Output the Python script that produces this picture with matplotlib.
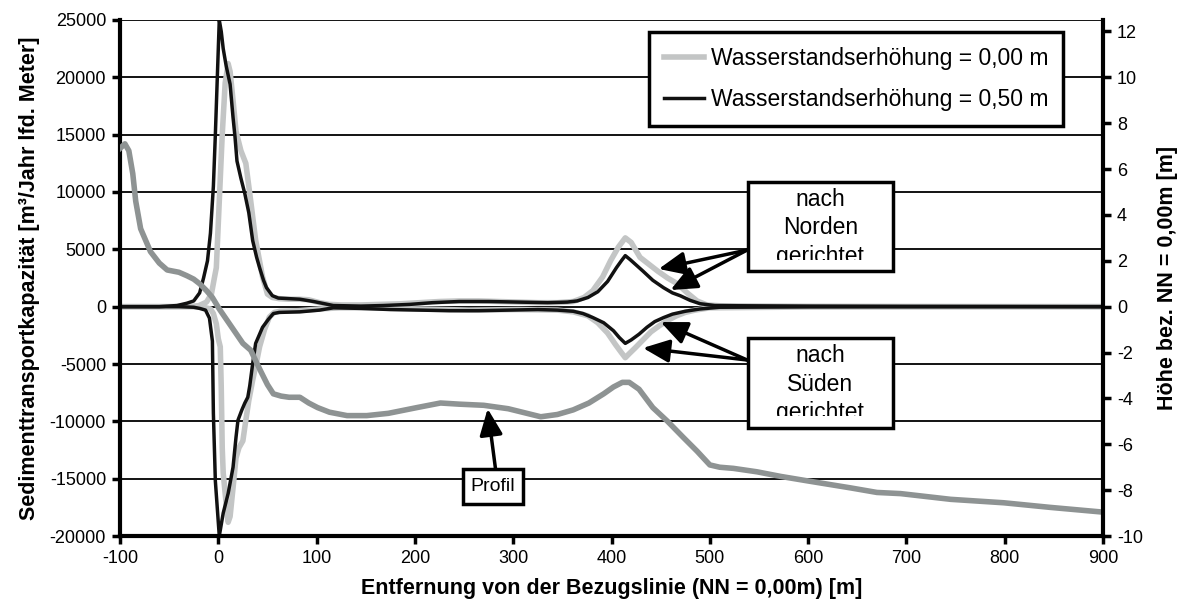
import matplotlib
matplotlib.use("Agg")
import matplotlib.pyplot as plt
from matplotlib.patches import Rectangle
from matplotlib.transforms import Bbox, TransformedBbox

plt.rcParams['font.family'] = ['Liberation Sans', 'DejaVu Sans']
plt.rcParams['axes.unicode_minus'] = False

# Sedimenttransport, Wasserstand +0,00 m (hellgrau)
x0_nord = [-100, -50, -30, -20, -12, -7, -4, -2, 1, 4, 7, 10, 12, 15, 18, 23, 28, 33, 38, 45,
           50, 55, 62, 72, 82, 92, 103, 113, 125, 145, 165, 185, 205, 225, 245, 265, 285, 305,
           325, 345, 361, 372, 381, 391, 399, 407, 414, 420, 429, 438, 447, 457, 467, 477, 487,
           497, 510, 550, 600, 700, 800, 900]
q0_nord = [0, 0, 20, 80, 400, 1100, 2500, 3400, 9200, 15000, 19500, 21200, 20500, 18000, 15300,
           13600, 12500, 9200, 5800, 2600, 1100, 800, 700, 650, 650, 600, 350, 200, 150, 150, 200,
           250, 350, 450, 500, 500, 450, 400, 350, 350, 450, 800, 1400, 2600, 4000, 5200, 6000,
           5600, 4300, 3700, 3100, 2500, 2000, 1200, 500, 150, 80, 50, 30, 20, 10, 0]

x0_sued = [-100, -30, -15, -8, -5, -2, 0, 2, 3, 4, 5, 7, 10, 12, 15, 18, 21, 25, 28, 31, 35, 39,
           42, 47, 52, 57, 63, 82, 103, 123, 153, 205, 255, 305, 345, 361, 376, 386, 396, 404,
           410, 414, 418, 424, 432, 440, 448, 457, 466, 475, 485, 500, 600, 900]
q0_sued = [0, 0, -50, -200, -600, -1500, -2800, -3500, -7000, -12300, -14500, -16300, -18800,
           -18300, -15800, -13200, -12300, -11700, -9900, -8200, -6400, -4800, -3500, -2000, -900,
           -500, -400, -350, -200, -100, -100, -200, -300, -250, -300, -450, -800, -1400, -2300,
           -3300, -4000, -4450, -4100, -3600, -2900, -2200, -1700, -1200, -800, -500, -300, -100,
           -30, 0]

# Sedimenttransport, Wasserstand +0,50 m (schwarz)
x5_nord = [-100, -60, -42, -32, -25, -19, -15, -11, -8, -5, -3, -1, 1, 3, 5, 8, 12, 15, 17, 19,
           23, 27, 31, 35, 39, 42, 46, 49, 55, 61, 72, 83, 97, 117, 145, 168, 195, 218, 245, 275,
           305, 335, 355, 365, 376, 386, 396, 405, 410, 414, 419, 432, 442, 453, 462, 470, 480,
           490, 505, 530, 600, 700, 800, 900]
q5_nord = [0, 0, 100, 300, 500, 1200, 2500, 4000, 6400, 10500, 15000, 20000, 25000, 24000, 22500,
           21000, 19400, 16500, 14800, 12700, 11200, 9850, 8200, 5750, 4300, 3400, 2300, 1660, 960,
           750, 700, 650, 450, 100, 50, 100, 200, 350, 450, 450, 400, 350, 400, 500, 800, 1300,
           2200, 3400, 4000, 4450, 4100, 3100, 2300, 1650, 1200, 950, 550, 260, 100, 80, 50, 30,
           20, 0]

x5_sued = [-100, -40, -25, -19, -13, -9, -6, -5, -3, 1, 5, 10, 15, 18, 20, 24, 27, 30, 32, 35, 38,
           45, 51, 56, 62, 83, 103, 117, 145, 175, 205, 235, 265, 295, 325, 345, 361, 371, 381,
           392, 402, 408, 414, 420, 428, 436, 444, 453, 462, 475, 490, 510, 600, 900]
q5_sued = [0, 0, -50, -150, -300, -1000, -3000, -9300, -15200, -20000, -18000, -16300, -14000,
           -11400, -9900, -9000, -8400, -7900, -6900, -4950, -3200, -1800, -1100, -600, -500, -450,
           -300, -100, -150, -250, -300, -350, -350, -300, -250, -300, -400, -600, -950, -1400,
           -2100, -2700, -3200, -2900, -2400, -1800, -1300, -950, -650, -400, -200, -50, -20, 0]

# Profil (rechte Achse, Hoehe bez. NN)
x_profil = [-100, -95, -91, -87, -84, -79, -69, -60, -52, -40, -32, -25, -19, -12, -6, 1, 9, 17,
            25, 33, 43, 50, 56, 64, 72, 83, 92, 101, 113, 131, 151, 173, 202, 226, 245, 270, 295,
            328, 345, 361, 377, 392, 402, 411, 418, 428, 442, 457, 473, 487, 500, 510, 524, 548,
            572, 600, 643, 670, 694, 745, 799, 846, 898]
h_profil = [6.9, 7.1, 6.8, 5.8, 4.6, 3.4, 2.4, 1.9, 1.6, 1.5, 1.35, 1.2, 1.0, 0.7, 0.4, -0.1,
            -0.6, -1.1, -1.6, -1.9, -2.8, -3.4, -3.8, -3.9, -3.95, -3.95, -4.2, -4.4, -4.6, -4.75,
            -4.75, -4.65, -4.4, -4.2, -4.25, -4.3, -4.45, -4.8, -4.7, -4.5, -4.2, -3.8, -3.5, -3.3,
            -3.3, -3.6, -4.4, -5.0, -5.7, -6.3, -6.9, -7.0, -7.05, -7.2, -7.4, -7.6, -7.9, -8.1,
            -8.15, -8.4, -8.55, -8.75, -8.95]

x_ticks = list(range(-100, 901, 100))
y_ticks = list(range(-20000, 25001, 5000))
h_ticks = list(range(-10, 13, 2))

hellgrau = '#c3c5c5'
profilgrau = '#8e9393'
schwarz = '#111111'

fig = plt.figure(figsize=(11.81, 6.11), dpi=100)
ax = fig.add_axes([0.1016, 0.1227, 0.8324, 0.8446])

ax.yaxis.grid(True, color='black', lw=1.3)
ax.set_axisbelow(True)

l0, = ax.plot(x0_nord, q0_nord, color=hellgrau, lw=4, solid_joinstyle='round')
ax.plot(x0_sued, q0_sued, color=hellgrau, lw=4, solid_joinstyle='round')
l5, = ax.plot(x5_nord, q5_nord, color=schwarz, lw=2.5)
ax.plot(x5_sued, q5_sued, color=schwarz, lw=2.5)

ax.set_xlim(-100, 900)
ax.set_ylim(-20000, 25000)
ax.set_xticks(x_ticks)
ax.set_yticks(y_ticks)
ax.tick_params(axis='both', labelsize=13, length=6, width=2.5, direction='out', pad=4)
for s in ['left', 'bottom']:
    ax.spines[s].set_linewidth(3)
ax.spines['top'].set_visible(False)
ax.spines['right'].set_visible(False)

ax.set_xlabel('Entfernung von der Bezugslinie (NN = 0,00m) [m]', fontsize=15.5,
              fontweight='bold', labelpad=8)
ax.set_ylabel('Sedimenttransportkapazität [m³/Jahr lfd. Meter]', fontsize=15.5,
              fontweight='bold', labelpad=7)

ax2 = ax.twinx()
ax2.plot(x_profil, h_profil, color=profilgrau, lw=4, solid_joinstyle='round')
ax2.set_ylim(-10, 12.5)
ax2.set_yticks(h_ticks)
ax2.tick_params(axis='y', labelsize=13, length=6, width=2.5, direction='out', pad=4)
ax2.spines['right'].set_linewidth(3)
ax2.spines['top'].set_visible(False)
ax2.spines['left'].set_visible(False)
ax2.spines['bottom'].set_visible(False)
ax2.set_ylabel('Höhe bez. NN = 0,00m [m]', fontsize=15.5, fontweight='bold', labelpad=10)

leg = ax2.legend([l0, l5], ['Wasserstandserhöhung = 0,00 m', 'Wasserstandserhöhung = 0,50 m'],
                 loc='upper left', bbox_to_anchor=(0.538, 0.977), borderaxespad=0,
                 fontsize=16.5, fancybox=False, framealpha=1, edgecolor='black',
                 handlelength=1.75, handletextpad=0.3, labelspacing=0.8, borderpad=0.65)
leg.get_frame().set_linewidth(2.5)
leg.set_zorder(10)

# Beschriftungskaesten mit Pfeilen
pfeil = dict(arrowstyle='-|>,head_length=0.8,head_width=0.35', lw=2.5, color='black',
             shrinkA=0, shrinkB=0, mutation_scale=20)


def kasten(x, y, w, h, zeilen, ys, clip_y):
    ax2.add_patch(Rectangle((x, y), w, h, transform=ax.transData, fc='white', ec='black',
                            lw=2.5, zorder=6, clip_on=False))
    clip = TransformedBbox(Bbox([[x, clip_y], [x + w, y + h]]), ax.transData)
    for txt, ty in zip(zeilen, ys):
        t = ax2.text(x + w / 2, ty, txt, transform=ax.transData, ha='center', va='baseline',
                     fontsize=16.5, zorder=7)
        t.set_clip_box(clip)
        t.set_clip_on(True)


kasten(539, 3110, 147, 7750, ['nach', 'Norden', 'gerichtet'], [8770, 6340, 3810], 4070)
kasten(539, -10580, 147, 7850, ['nach', 'Süden', 'gerichtet'], [-4820, -7350, -9790], -9530)

for tip in [(448, 3290), (460, 1450)]:
    ax2.annotate('', xy=tip, xytext=(538, 4940), xycoords=ax.transData,
                 textcoords=ax.transData, arrowprops=pfeil, zorder=8)
for tip in [(450, -1340), (432, -3600)]:
    ax2.annotate('', xy=tip, xytext=(538, -4650), xycoords=ax.transData,
                 textcoords=ax.transData, arrowprops=pfeil, zorder=8)

ax2.annotate('', xy=(274, -8900), xytext=(282, -14150), xycoords=ax.transData,
             textcoords=ax.transData, arrowprops=pfeil, zorder=8)
ax2.add_patch(Rectangle((249, -17200), 61, 3050, transform=ax.transData, fc='white',
                        ec='black', lw=2.5, zorder=6))
ax2.text(279.5, -15675, 'Profil', transform=ax.transData, ha='center', va='center',
         fontsize=14, zorder=7)

ax.set_xlim(-100, 900)
ax.set_ylim(-20000, 25000)
ax2.set_ylim(-10, 12.5)

fig.savefig('out.png', dpi=100)
